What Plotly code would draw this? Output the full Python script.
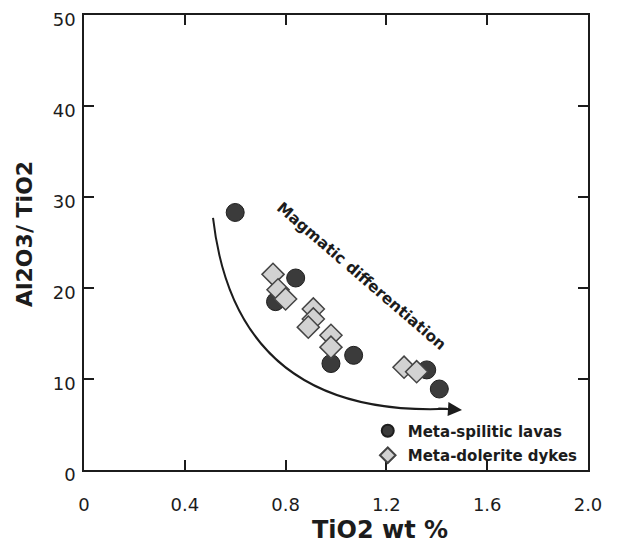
import plotly.graph_objects as go

# Data
lava_tio2 = [0.60, 0.84, 0.76, 0.98, 1.07, 1.36, 1.41]
lava_ratio = [28.3, 21.1, 18.5, 11.7, 12.6, 11.0, 8.9]

dyke_tio2 = [0.75, 0.77, 0.80, 0.91, 0.91, 0.89, 0.98, 0.98, 1.27, 1.32]
dyke_ratio = [21.5, 19.8, 18.8, 17.7, 16.6, 15.7, 14.8, 13.5, 11.3, 10.8]

x_ticks = [0, 0.4, 0.8, 1.2, 1.6, 2.0]
x_tick_labels = ["0", "0.4", "0.8", "1.2", "1.6", "2.0"]
y_ticks = [0, 10, 20, 30, 40, 50]

# Trend arrow (annotation) in data units: start, control, end, tip
trend_start = (0.512, 27.7)
trend_ctrl = (0.603, 5.8)
trend_end = (1.44, 6.72)
trend_tip = (1.50, 6.60)

FONT = "DejaVu Sans"
INK = "#1c1c1c"

fig = go.Figure()
fig.add_trace(go.Scatter(
    x=lava_tio2, y=lava_ratio, mode="markers", name="<b>Meta-spilitic lavas</b>",
    legendgroup="a",
    marker=dict(symbol="circle", size=18, color="#3b3b3b",
                line=dict(color="#1e1e1e", width=1)),
))
fig.add_trace(go.Scatter(
    x=dyke_tio2, y=dyke_ratio, mode="markers", name="<b>Meta-dolerite dykes</b>",
    legendgroup="b",
    marker=dict(symbol="diamond", size=17, color="#d2d2d2",
                line=dict(color="#444444", width=1.5)),
))

fig.add_shape(
    type="path", xref="x", yref="y",
    path=f"M {trend_start[0]},{trend_start[1]} Q {trend_ctrl[0]},{trend_ctrl[1]} {trend_end[0]},{trend_end[1]}",
    line=dict(color=INK, width=2),
)
fig.add_annotation(
    x=trend_tip[0], y=trend_tip[1], ax=trend_end[0] - 0.04, ay=trend_end[1] + 0.05,
    xref="x", yref="y", axref="x", ayref="y", text="", showarrow=True,
    arrowhead=2, arrowsize=1.4, arrowwidth=2, arrowcolor=INK,
)
fig.add_annotation(
    x=1.10, y=21.35, xref="x", yref="y", text="<b>Magmatic differentiation</b>",
    showarrow=False, textangle=40.7, font=dict(family=FONT, size=15.5, color=INK),
)

# Axis titles (positions in paper units of the plot area)
fig.add_annotation(
    x=(380 - 84) / 504, y=-(530 - 470) / 455, xref="paper", yref="paper",
    text="<b>TiO2 wt %</b>",
    showarrow=False, font=dict(family=FONT, size=24, color=INK),
    xanchor="center", yanchor="middle",
)
fig.add_annotation(
    x=-(84 - 25) / 504, y=(470 - 234) / 455, xref="paper", yref="paper",
    text="<b>Al2O3/ TiO2</b>",
    showarrow=False, textangle=-90, font=dict(family=FONT, size=22, color=INK),
    xanchor="center", yanchor="middle",
)

axis_common = dict(
    showgrid=False, zeroline=False, showline=True, linecolor=INK, linewidth=1.5,
    mirror="allticks", ticks="inside", ticklen=10, tickwidth=1.5, tickcolor=INK,
    tickfont=dict(family=FONT, size=18, color=INK), automargin=False,
    ticklabeloverflow="allow",
)
fig.update_xaxes(range=[0, 2.0], tickvals=x_ticks, ticktext=x_tick_labels,
                 ticklabelstandoff=18, **axis_common)
fig.update_yaxes(range=[0, 50], tickvals=y_ticks, ticklabelstandoff=3,
                 ticklabelshift=5, **axis_common)

fig.update_layout(
    width=623, height=550,
    margin=dict(l=76, r=43, t=7, b=88, autoexpand=False),
    paper_bgcolor="white", plot_bgcolor="white",
    showlegend=True,
    legend=dict(x=0.563, y=0.122, xanchor="left", yanchor="top",
                bgcolor="rgba(0,0,0,0)", tracegroupgap=2,
                traceorder="grouped", itemsizing="constant",
                font=dict(family=FONT, size=15, color=INK)),
)

fig.write_html("out.html")
